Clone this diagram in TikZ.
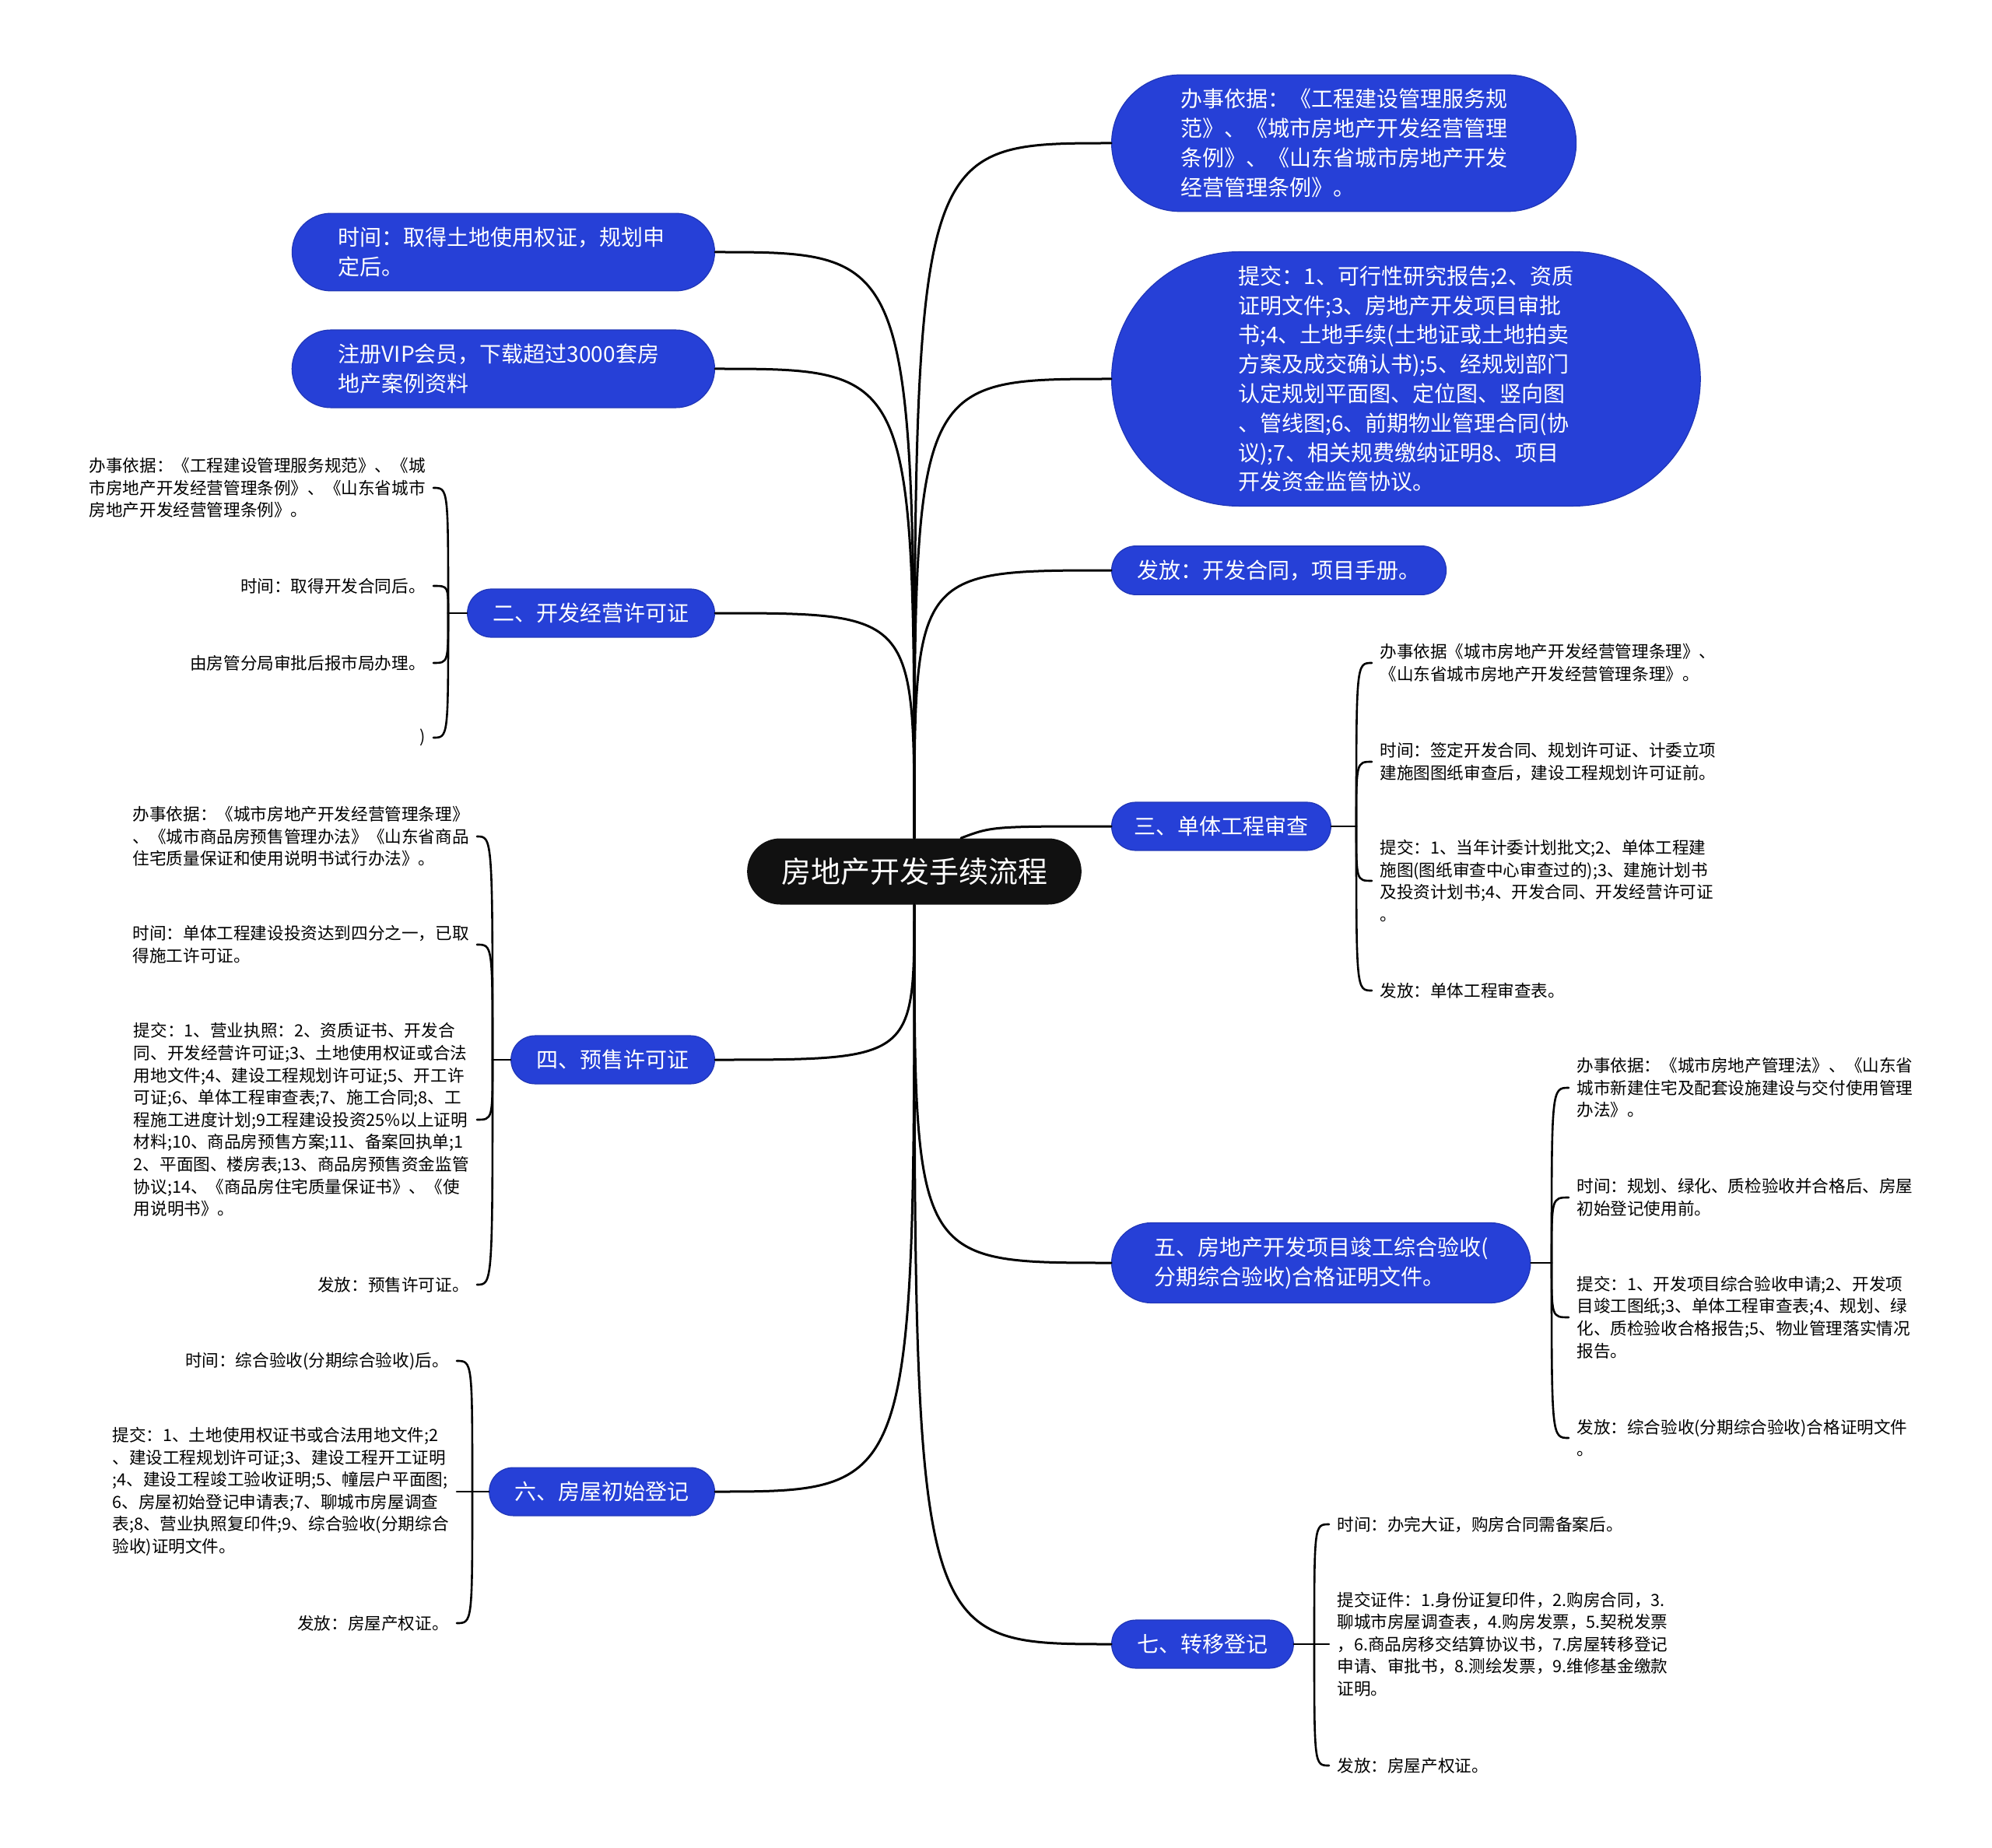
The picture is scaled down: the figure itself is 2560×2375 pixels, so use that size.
\documentclass[tikz,border=0pt]{standalone}
\usepackage{fontspec}
\setmainfont{Noto Sans CJK SC}
\usetikzlibrary{shapes.misc}
\definecolor{topicblue}{RGB}{38,64,215}
\definecolor{rootblack}{RGB}{17,17,17}
\begin{document}
\begin{tikzpicture}[x=0.5pt, y=-0.5pt, line join=round, line cap=round,
		root/.style={rounded rectangle, fill=rootblack, text=white, inner xsep=20pt, minimum height=42.5pt, font=\fontsize{19pt}{24pt}\selectfont},
		topic/.style={rounded rectangle, fill=topicblue, draw=topicblue!85!black, line width=0.6pt, text=white, align=left, inner xsep=15pt, inner ysep=9pt, font=\fontsize{14pt}{18.9pt}\selectfont},
		leaf/.style={align=left, inner xsep=5pt, inner ysep=2pt, font=\fontsize{10.8pt}{14.3pt}\selectfont},
		link/.style={line width=1.5pt},
		brace/.style={line width=1.3pt}
		]
		\fill[white] (0,0) rectangle (2560,2375);
		\useasboundingbox (0,0) rectangle (2560,2375);
		\node[root] (root) at (1175,1120) {房地产开发手续流程};
		% right topics
		\node[topic, anchor=west, inner xsep=27pt] (basis) at (1428,184) {办事依据：《工程建设管理服务规\\范》、《城市房地产开发经营管理\\条例》、《山东省城市房地产开发\\经营管理条例》。};
		\node[topic, anchor=west, inner xsep=37pt] (submit) at (1428,487) {提交：1、可行性研究报告;2、资质\\证明文件;3、房地产开发项目审批\\书;4、土地手续(土地证或土地拍卖\\方案及成交确认书);5、经规划部门\\认定规划平面图、定位图、竖向图\\、管线图;6、前期物业管理合同(协\\议);7、相关规费缴纳证明8、项目\\开发资金监管协议。};
		\node[topic, anchor=west] (issue) at (1428,733) {发放：开发合同，项目手册。};
		\node[topic, anchor=west, inner xsep=13pt] (sec3) at (1428,1062) {三、单体工程审查};
		\node[topic, anchor=west, inner xsep=21pt] (sec5) at (1428,1623) {五、房地产开发项目竣工综合验收(\\分期综合验收)合格证明文件。};
		\node[topic, anchor=west] (sec7) at (1428,2113) {七、转移登记};
		% left topics
		\node[topic, anchor=east, inner xsep=24pt, text width=212pt] (timenode) at (919,324) {时间：取得土地使用权证，规划申\\定后。};
		\node[topic, anchor=east, inner xsep=24pt, text width=212pt] (vip) at (919,474) {注册VIP会员，下载超过3000套房\\地产案例资料};
		\node[topic, anchor=east] (sec2) at (919,788) {二、开发经营许可证};
		\node[topic, anchor=east] (sec4) at (919,1362) {四、预售许可证};
		\node[topic, anchor=east] (sec6) at (919,1917) {六、房屋初始登记};
		
		\foreach \t in {basis,submit,issue}
		\draw[link] (root.north) .. controls (root.north |- \t.west) .. (\t.west);
		\foreach \t in {timenode,vip,sec2}
		\draw[link] (root.north) .. controls (root.north |- \t.east) .. (\t.east);
		\draw[link] ([xshift=30pt]root.north) .. controls ([xshift=50pt]root.north |- sec3.west) .. (sec3.west);
		\foreach \t in {sec5,sec7}
		\draw[link] (root.south) .. controls (root.south |- \t.west) .. (\t.west);
		\foreach \t in {sec4,sec6}
		\draw[link] (root.south) .. controls (root.south |- \t.east) .. (\t.east);
		
		% 二
		\node[leaf, anchor=east] (l21) at (557,627) {办事依据：《工程建设管理服务规范》、《城\\市房地产开发经营管理条例》、《山东省城市\\房地产开发经营管理条例》。};
		\node[leaf, anchor=east] (l22) at (557,753) {时间：取得开发合同后。};
		\node[leaf, anchor=east] (l23) at (557,852) {由房管分局审批后报市局办理。};
		\node[leaf, anchor=east] (l24) at (557,948) {)};
		\coordinate (b2) at (576,788);
		\draw[brace] (sec2.west) -- (b2);
		\foreach \n in {l21,l22,l23,l24}
		\draw[brace] (b2) .. controls (b2 |- \n.east) and (b2 |- \n.east) .. (\n.east);
		
		% 四
		\node[leaf, anchor=east] (l41) at (613,1075) {办事依据：《城市房地产开发经营管理条理》\\、《城市商品房预售管理办法》《山东省商品\\住宅质量保证和使用说明书试行办法》。};
		\node[leaf, anchor=east] (l42) at (613,1214) {时间：单体工程建设投资达到四分之一，已取\\得施工许可证。};
		\node[leaf, anchor=east] (l43) at (613,1439) {提交：1、营业执照：2、资质证书、开发合\\同、开发经营许可证;3、土地使用权证或合法\\用地文件;4、建设工程规划许可证;5、开工许\\可证;6、单体工程审查表;7、施工合同;8、工\\程施工进度计划;9工程建设投资25\%以上证明\\材料;10、商品房预售方案;11、备案回执单;1\\2、平面图、楼房表;13、商品房预售资金监管\\协议;14、《商品房住宅质量保证书》、《使\\用说明书》。};
		\node[leaf, anchor=east] (l44) at (613,1651) {发放：预售许可证。};
		\coordinate (b4) at (633,1362);
		\draw[brace] (sec4.west) -- (b4);
		\foreach \n in {l41,l42,l43,l44}
		\draw[brace] (b4) .. controls (b4 |- \n.east) and (b4 |- \n.east) .. (\n.east);
		
		% 六
		\node[leaf, anchor=east] (l61) at (587,1749) {时间：综合验收(分期综合验收)后。};
		\node[leaf, anchor=east] (l62) at (587,1917) {提交：1、土地使用权证书或合法用地文件;2\\、建设工程规划许可证;3、建设工程开工证明\\;4、建设工程竣工验收证明;5、幢层户平面图;\\6、房屋初始登记申请表;7、聊城市房屋调查\\表;8、营业执照复印件;9、综合验收(分期综合\\验收)证明文件。};
		\node[leaf, anchor=east] (l63) at (587,2086) {发放：房屋产权证。};
		\coordinate (b6) at (607,1917);
		\draw[brace] (sec6.west) -- (b6);
		\foreach \n in {l61,l62,l63}
		\draw[brace] (b6) .. controls (b6 |- \n.east) and (b6 |- \n.east) .. (\n.east);
		
		% 三
		\node[leaf, anchor=west] (r31) at (1763,852) {办事依据《城市房地产开发经营管理条理》、\\《山东省城市房地产开发经营管理条理》。};
		\node[leaf, anchor=west] (r32) at (1763,979) {时间：签定开发合同、规划许可证、计委立项\\建施图图纸审查后，建设工程规划许可证前。};
		\node[leaf, anchor=west] (r33) at (1763,1132) {提交：1、当年计委计划批文;2、单体工程建\\施图(图纸审查中心审查过的);3、建施计划书\\及投资计划书;4、开发合同、开发经营许可证\\。};
		\node[leaf, anchor=west] (r34) at (1763,1273) {发放：单体工程审查表。};
		\coordinate (b3) at (1743,1062);
		\draw[brace] (sec3.east) -- (b3);
		\foreach \n in {r31,r32,r33,r34}
		\draw[brace] (b3) .. controls (b3 |- \n.west) and (b3 |- \n.west) .. (\n.west);
		
		% 五
		\node[leaf, anchor=west] (r51) at (2016,1398) {办事依据：《城市房地产管理法》、《山东省\\城市新建住宅及配套设施建设与交付使用管理\\办法》。};
		\node[leaf, anchor=west] (r52) at (2016,1539) {时间：规划、绿化、质检验收并合格后、房屋\\初始登记使用前。};
		\node[leaf, anchor=west] (r53) at (2016,1693) {提交：1、开发项目综合验收申请;2、开发项\\目竣工图纸;3、单体工程审查表;4、规划、绿\\化、质检验收合格报告;5、物业管理落实情况\\报告。};
		\node[leaf, anchor=west] (r54) at (2016,1848) {发放：综合验收(分期综合验收)合格证明文件\\。};
		\coordinate (b5) at (1994,1623);
		\draw[brace] (sec5.east) -- (b5);
		\foreach \n in {r51,r52,r53,r54}
		\draw[brace] (b5) .. controls (b5 |- \n.west) and (b5 |- \n.west) .. (\n.west);
		
		% 七
		\node[leaf, anchor=west] (r71) at (1708,1959) {时间：办完大证，购房合同需备案后。};
		\node[leaf, anchor=west] (r72) at (1708,2113) {提交证件：1.身份证复印件，2.购房合同，3.\\聊城市房屋调查表，4.购房发票，5.契税发票\\，6.商品房移交结算协议书，7.房屋转移登记\\申请、审批书，8.测绘发票，9.维修基金缴款\\证明。};
		\node[leaf, anchor=west] (r73) at (1708,2269) {发放：房屋产权证。};
		\coordinate (b7) at (1689,2113);
		\draw[brace] (sec7.east) -- (b7);
		\foreach \n in {r71,r72,r73}
		\draw[brace] (b7) .. controls (b7 |- \n.west) and (b7 |- \n.west) .. (\n.west);
		
\end{tikzpicture}
\end{document}
